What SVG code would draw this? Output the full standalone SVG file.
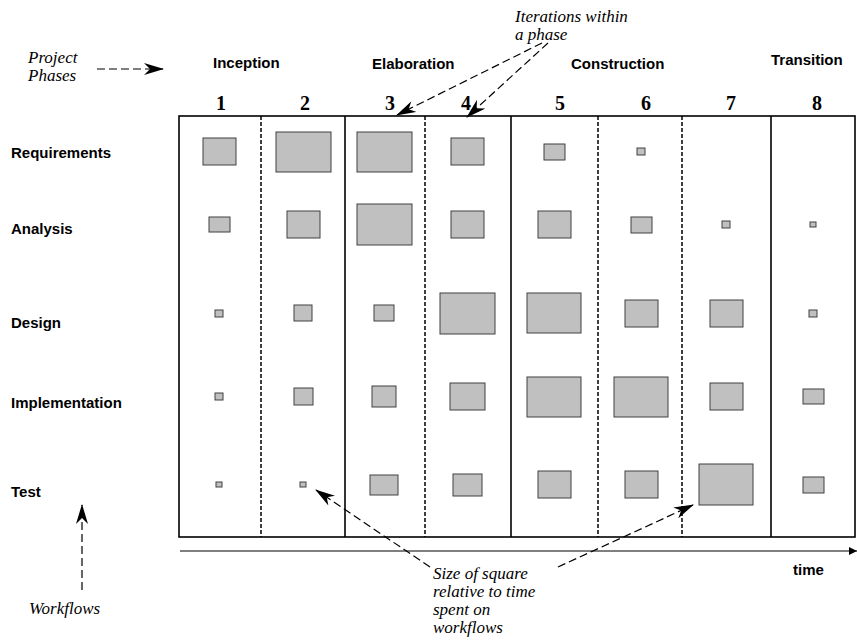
<svg xmlns="http://www.w3.org/2000/svg" width="857" height="641" viewBox="0 0 857 641">
<style>
.sq{fill:#c0c0c0;stroke:#404040;stroke-width:1}
.lab{font-family:"Liberation Sans",Arial,sans-serif;font-weight:bold;font-size:15px;fill:#000}
.num{font-family:"Liberation Serif","Times New Roman",serif;font-weight:bold;font-size:20px;fill:#000}
.note{font-family:"Liberation Serif","Times New Roman",serif;font-style:italic;font-size:17px;fill:#000}
.solid{stroke:#000;stroke-width:1.6;fill:none}
.dash{stroke:#000;stroke-width:1.5;stroke-dasharray:4,2;fill:none}
.ann{stroke:#000;stroke-width:1.2;stroke-dasharray:8,4;fill:none}
</style>
<defs>
<marker id="ah" viewBox="0 0 20 12" refX="19" refY="6" markerWidth="20" markerHeight="12" markerUnits="userSpaceOnUse" orient="auto">
<path d="M0,0 L20,6 L0,12 L6,6 Z" fill="#000"/>
</marker>
<marker id="ta" viewBox="0 0 8 8" refX="8" refY="4" markerWidth="8" markerHeight="8" markerUnits="userSpaceOnUse" orient="auto">
<path d="M0,0 L8,4 L0,8 Z" fill="#000"/>
</marker>
</defs>
<rect width="857" height="641" fill="#fff"/>

<g id="phases">
<text class="lab" x="213" y="68">Inception</text>
<text class="lab" x="372" y="69">Elaboration</text>
<text class="lab" x="571" y="69">Construction</text>
<text class="lab" x="771" y="65">Transition</text>
</g>

<g id="iterations">
<text class="num" x="221" y="110" text-anchor="middle">1</text>
<text class="num" x="305" y="110" text-anchor="middle">2</text>
<text class="num" x="390" y="110" text-anchor="middle">3</text>
<text class="num" x="466" y="110" text-anchor="middle">4</text>
<text class="num" x="560" y="110" text-anchor="middle">5</text>
<text class="num" x="646" y="110" text-anchor="middle">6</text>
<text class="num" x="731" y="110" text-anchor="middle">7</text>
<text class="num" x="817" y="110" text-anchor="middle">8</text>
</g>

<g id="workflows">
<text class="lab" x="11" y="158">Requirements</text>
<text class="lab" x="11" y="234">Analysis</text>
<text class="lab" x="11" y="328">Design</text>
<text class="lab" x="11" y="408">Implementation</text>
<text class="lab" x="11" y="497">Test</text>
</g>

<g id="grid">
<rect class="solid" x="179" y="116" width="676" height="421"/>
<line class="dash" x1="261" y1="116" x2="261" y2="537"/>
<line class="solid" x1="345" y1="116" x2="345" y2="537"/>
<line class="dash" x1="425" y1="116" x2="425" y2="537"/>
<line class="solid" x1="511" y1="116" x2="511" y2="537"/>
<line class="dash" x1="598" y1="116" x2="598" y2="537"/>
<line class="dash" x1="682" y1="116" x2="682" y2="537"/>
<line class="solid" x1="771" y1="116" x2="771" y2="537"/>
</g>

<g id="squares">
<rect class="sq" x="203" y="138" width="33" height="27"/>
<rect class="sq" x="276" y="132" width="55" height="40"/>
<rect class="sq" x="357" y="132" width="55" height="40"/>
<rect class="sq" x="451" y="138" width="33" height="27"/>
<rect class="sq" x="544" y="144" width="21" height="16"/>
<rect class="sq" x="637" y="148" width="8" height="7"/>

<rect class="sq" x="209" y="217" width="21" height="15"/>
<rect class="sq" x="287" y="211" width="33" height="27"/>
<rect class="sq" x="357" y="204" width="55" height="41"/>
<rect class="sq" x="451" y="211" width="33" height="27"/>
<rect class="sq" x="538" y="211" width="33" height="27"/>
<rect class="sq" x="631" y="217" width="21" height="16"/>
<rect class="sq" x="722" y="221" width="8" height="7"/>
<rect class="sq" x="810" y="222" width="6" height="5"/>

<rect class="sq" x="215" y="310" width="8" height="7"/>
<rect class="sq" x="294" y="305" width="18" height="16"/>
<rect class="sq" x="374" y="305" width="20" height="16"/>
<rect class="sq" x="440" y="293" width="55" height="41"/>
<rect class="sq" x="527" y="293" width="54" height="40"/>
<rect class="sq" x="625" y="300" width="33" height="27"/>
<rect class="sq" x="710" y="300" width="33" height="27"/>
<rect class="sq" x="809" y="310" width="8" height="7"/>

<rect class="sq" x="215" y="393" width="8" height="7"/>
<rect class="sq" x="294" y="388" width="19" height="17"/>
<rect class="sq" x="372" y="386" width="24" height="21"/>
<rect class="sq" x="450" y="383" width="35" height="27"/>
<rect class="sq" x="527" y="377" width="54" height="40"/>
<rect class="sq" x="614" y="377" width="54" height="40"/>
<rect class="sq" x="710" y="383" width="33" height="27"/>
<rect class="sq" x="803" y="389" width="21" height="15"/>

<rect class="sq" x="216" y="482" width="6" height="5"/>
<rect class="sq" x="300" y="482" width="6" height="5"/>
<rect class="sq" x="370" y="475" width="28" height="20"/>
<rect class="sq" x="453" y="474" width="29" height="22"/>
<rect class="sq" x="538" y="471" width="33" height="27"/>
<rect class="sq" x="625" y="471" width="33" height="27"/>
<rect class="sq" x="699" y="464" width="54" height="41"/>
<rect class="sq" x="803" y="477" width="21" height="16"/>
</g>

<g id="notes">
<text class="note" x="28" y="63">Project</text>
<text class="note" x="28" y="81">Phases</text>
<text class="note" x="515" y="22">Iterations within</text>
<text class="note" x="515" y="40">a phase</text>
<text class="note" x="433" y="579">Size of square</text>
<text class="note" x="433" y="597">relative to time</text>
<text class="note" x="433" y="615">spent on</text>
<text class="note" x="433" y="633">workflows</text>
<text class="note" x="29" y="614">Workflows</text>
<text class="lab" x="793" y="575">time</text>
</g>

<g id="connectors">
<line class="ann" x1="97" y1="69" x2="163" y2="69" marker-end="url(#ah)"/>
<line class="ann" x1="542" y1="43" x2="397" y2="115" marker-end="url(#ah)"/>
<line class="ann" x1="548" y1="43" x2="467" y2="117" marker-end="url(#ah)"/>
<line class="ann" x1="430" y1="567" x2="316" y2="490" marker-end="url(#ah)"/>
<line class="ann" x1="558" y1="567" x2="693" y2="505" marker-end="url(#ah)"/>
<line class="ann" x1="82" y1="590" x2="82" y2="505" marker-end="url(#ah)"/>
<line stroke="#000" stroke-width="1.2" x1="180" y1="551" x2="857" y2="551" marker-end="url(#ta)"/>
</g>
</svg>
